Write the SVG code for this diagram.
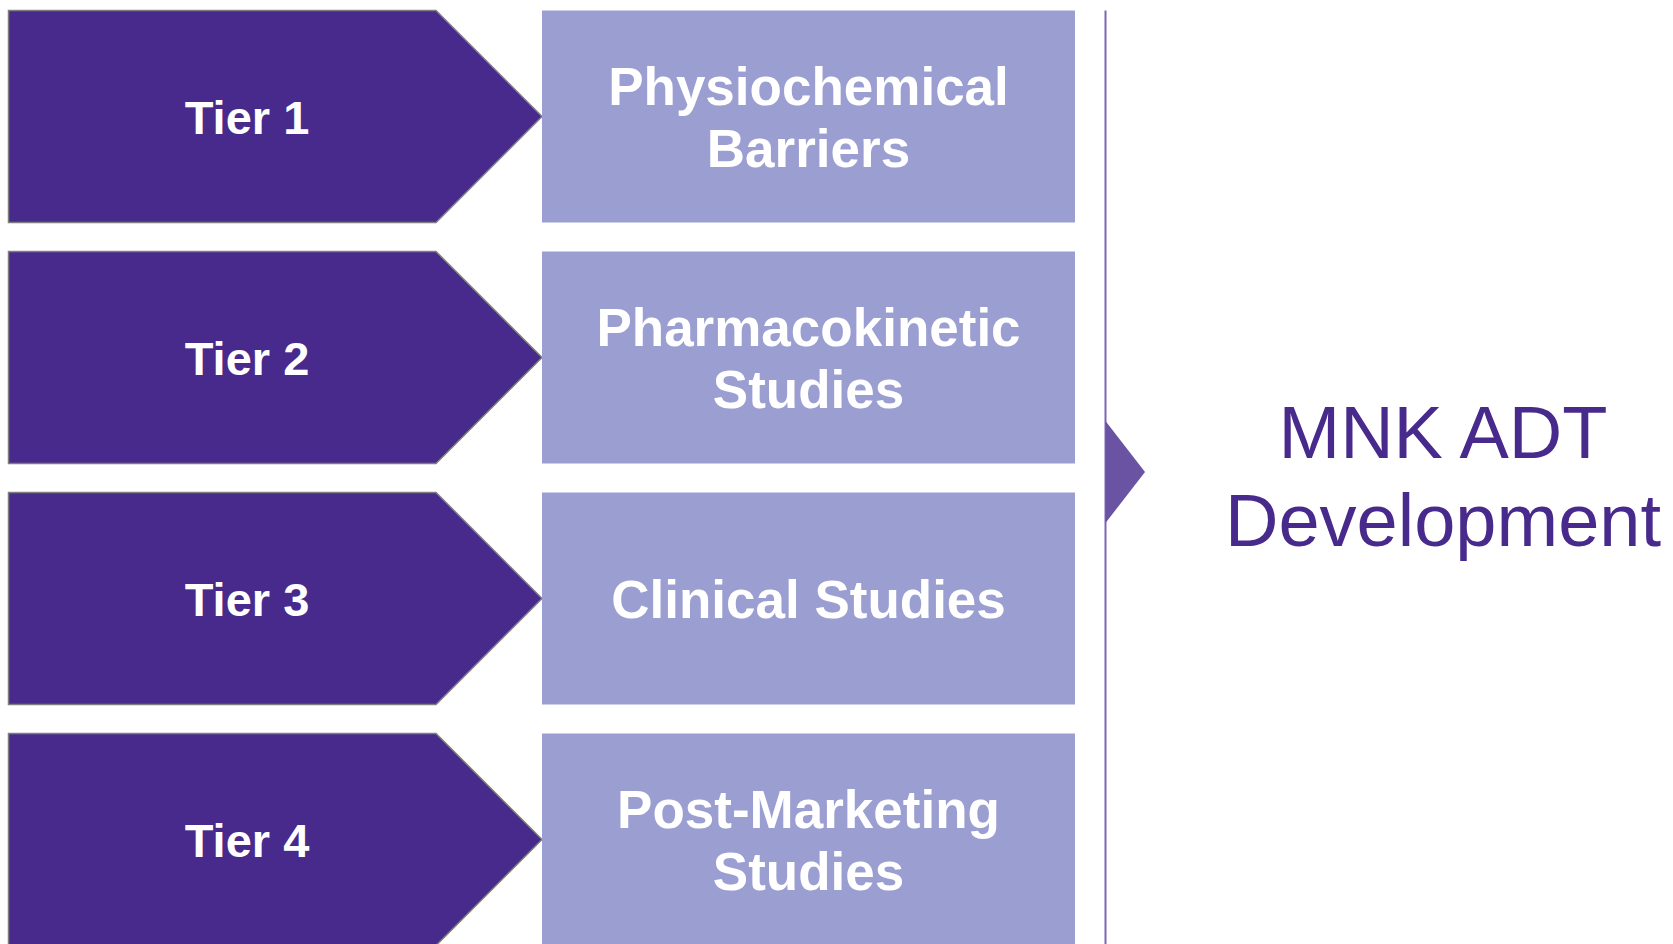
<svg xmlns="http://www.w3.org/2000/svg" width="1673" height="944" viewBox="0 0 1673 944">
  <style>
    .tier { fill: #48298c; stroke: #7f7f7f; stroke-width: 1.5; }
    .box { fill: #9b9ed0; }
    .tl { font-family: "Liberation Sans", Arial, sans-serif; font-weight: bold; font-size: 47px; fill: #ffffff; text-anchor: middle; }
    .bl { font-family: "Liberation Sans", Arial, sans-serif; font-weight: bold; font-size: 53px; fill: #ffffff; text-anchor: middle; }
    .goal { font-family: "Liberation Sans", Arial, sans-serif; font-size: 74px; fill: #48298c; text-anchor: middle; }
    .axis { stroke: #7a66b5; stroke-width: 2; fill: none; }
    .pointer { fill: #6b53a4; }
  </style>
  <rect width="1673" height="944" fill="#ffffff"/>

  <g id="tier1">
    <polygon class="tier" points="8.5,10.5 436,10.5 542,116.5 436,222.5 8.5,222.5"/>
    <text class="tl" x="247" y="134">Tier 1</text>
  </g>
  <g id="tier2">
    <polygon class="tier" points="8.5,251.5 436,251.5 542,357.5 436,463.5 8.5,463.5"/>
    <text class="tl" x="247" y="375">Tier 2</text>
  </g>
  <g id="tier3">
    <polygon class="tier" points="8.5,492.5 436,492.5 542,598.5 436,704.5 8.5,704.5"/>
    <text class="tl" x="247" y="616">Tier 3</text>
  </g>
  <g id="tier4">
    <polygon class="tier" points="8.5,733.5 436,733.5 542,839.5 436,945.5 8.5,945.5"/>
    <text class="tl" x="247" y="857">Tier 4</text>
  </g>

  <g id="physiochemical">
    <rect class="box" x="542" y="10.5" width="533" height="212"/>
    <text class="bl" x="808.5" y="105">Physiochemical</text>
    <text class="bl" x="808.5" y="167">Barriers</text>
  </g>
  <g id="pharmacokinetic">
    <rect class="box" x="542" y="251.5" width="533" height="212"/>
    <text class="bl" x="808.5" y="346">Pharmacokinetic</text>
    <text class="bl" x="808.5" y="408">Studies</text>
  </g>
  <g id="clinical">
    <rect class="box" x="542" y="492.5" width="533" height="212"/>
    <text class="bl" x="808.5" y="618">Clinical Studies</text>
  </g>
  <g id="postmarketing">
    <rect class="box" x="542" y="733.5" width="533" height="212"/>
    <text class="bl" x="808.5" y="828">Post-Marketing</text>
    <text class="bl" x="808.5" y="890">Studies</text>
  </g>

  <g id="connectors">
    <line class="axis" x1="1105.5" y1="10.5" x2="1105.5" y2="944"/>
    <polygon class="pointer" points="1105.5,421 1145,472 1105.5,523"/>
  </g>

  <g id="mnk-adt">
    <text class="goal" x="1443" y="458">MNK ADT</text>
    <text class="goal" x="1443" y="546">Development</text>
  </g>
</svg>
